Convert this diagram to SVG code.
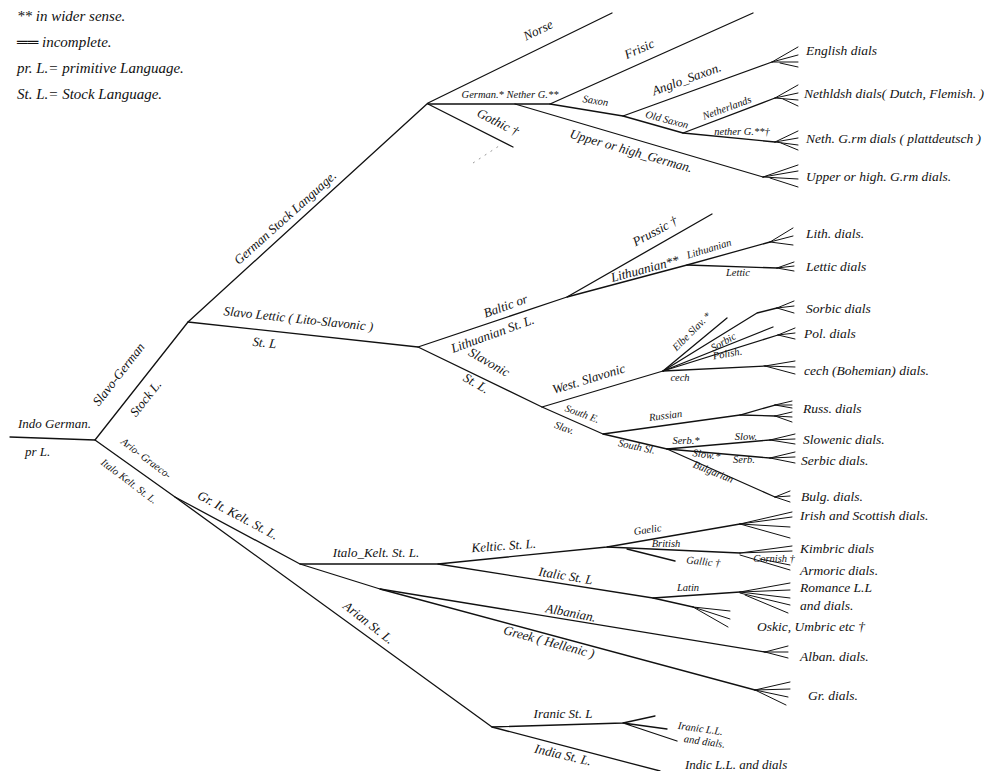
<svg xmlns="http://www.w3.org/2000/svg" width="993" height="771" viewBox="0 0 993 771">
<style>
.l{fill:none;stroke:#111;stroke-width:1.3;stroke-linecap:round;stroke-linejoin:round}
.f{fill:none;stroke:#111;stroke-width:1;stroke-linecap:round}
.d{fill:none;stroke:#999;stroke-width:1;stroke-dasharray:2 5}
text{font-family:"Liberation Serif","DejaVu Serif",serif;font-style:italic;font-size:13px;fill:#111}
.m{text-anchor:middle}
.s{font-size:10.5px}
.r{font-size:13.5px}
.lg{font-size:15px}
</style>
<rect width="993" height="771" fill="#fff"/>
<g id="legend">
<text class="lg" x="17" y="21">** in wider sense.</text>
<text class="lg" x="17" y="47">══ incomplete.</text>
<text class="lg" x="17" y="73">pr. L.= primitive Language.</text>
<text class="lg" x="17" y="99">St. L.= Stock Language.</text>
</g>
<g id="connectors">
<path class="l" d="M10,437 L95,440 L188,322 L428,103 L612,13"/>
<path class="l" d="M428,104 L550,104 L753,13"/>
<path class="l" d="M428,104 L513,147"/>
<path class="d" d="M473,163 L502,144"/>
<path class="l" d="M550,104 L623,116 L772,62"/>
<path class="f" d="M772,62 L798,47 M772,62 L798,55 M772,62 L798,62 M780,63 L798,67"/>
<path class="l" d="M623,116 L683,133 L775,98"/>
<path class="f" d="M775,98 L798,85 M775,98 L798,93 M775,98 L798,100 M783,99 L798,106"/>
<path class="l" d="M683,133 L775,142"/>
<path class="f" d="M775,142 L798,131 M775,142 L798,138 M775,142 L798,145 M781,143 L798,150"/>
<path class="l" d="M515,104 L763,177"/>
<path class="f" d="M763,177 L798,165 M763,177 L798,171 M763,177 L798,179 M770,178 L798,187"/>
<path class="l" d="M188,322 L418,347 L567,297 L712,214"/>
<path class="l" d="M567,297 L687,265 L770,242"/>
<path class="f" d="M770,242 L793,228 M770,242 L793,236 M770,242 L793,245"/>
<path class="l" d="M687,265 L777,268"/>
<path class="f" d="M777,268 L794,262 M777,268 L794,266 M777,268 L794,271"/>
<path class="l" d="M418,347 L542,407 L603,434 L667,449 L775,497"/>
<path class="f" d="M775,497 L790,491 M775,497 L790,496 M775,497 L790,502"/>
<path class="l" d="M542,407 L663,371 L727,318"/>
<path class="l" d="M663,371 L757,313 L777,308"/>
<path class="f" d="M777,308 L794,301 M777,308 L794,306 M777,308 L794,313"/>
<path class="l" d="M663,371 L773,327"/>
<path class="l" d="M663,371 L778,335"/>
<path class="f" d="M778,335 L795,328 M778,335 L795,333 M778,335 L795,339"/>
<path class="l" d="M663,371 L765,366"/>
<path class="f" d="M765,366 L795,361 M765,366 L795,367 M765,366 L795,374"/>
<path class="l" d="M603,434 L740,415 L775,405"/>
<path class="f" d="M775,405 L792,401 M775,405 L792,405 M775,405 L792,408"/>
<path class="l" d="M740,415 L775,416"/>
<path class="f" d="M775,416 L792,412 M775,416 L792,417 M775,416 L792,422"/>
<path class="l" d="M667,449 L770,440"/>
<path class="f" d="M770,440 L795,434 M770,440 L795,439 M770,440 L795,444"/>
<path class="l" d="M667,449 L770,458"/>
<path class="f" d="M770,458 L795,452 M770,458 L795,457 M770,458 L795,463"/>
<path class="l" d="M95,440 L175,497 L300,564 L438,564 L607,547 L740,524"/>
<path class="f" d="M740,524 L792,512 M740,524 L792,517 M740,524 L790,527 M740,524 L790,538"/>
<path class="l" d="M607,547 L740,553"/>
<path class="f" d="M740,553 L792,546 M740,553 L792,551 M740,555 L790,570 M760,559 L790,565"/>
<path class="l" d="M627,549 L675,561"/>
<path class="l" d="M438,564 L653,598 L693,607"/>
<path class="l" d="M653,598 L740,592"/>
<path class="f" d="M740,592 L790,583 M740,592 L790,590 M740,592 L790,598 M740,593 L790,605 M745,595 L788,613"/>
<path class="f" d="M693,607 L730,611 M693,607 L730,619 M693,607 L728,627"/>
<path class="l" d="M300,564 L380,589 L765,652"/>
<path class="f" d="M765,652 L788,646 M765,652 L788,652 M765,652 L788,658"/>
<path class="l" d="M380,589 L755,690"/>
<path class="f" d="M755,690 L790,682 M755,690 L790,689 M755,690 L788,697 M755,690 L786,705"/>
<path class="l" d="M175,497 L492,727 L623,723 L655,716"/>
<path class="l" d="M623,723 L667,729 M623,723 L677,741"/>
<path class="l" d="M492,727 L660,771"/>
</g>
<g id="n-root"><text x="18" y="428">Indo German.</text><text x="25" y="456">pr L.</text></g>
<g id="n-slavo-german"><text class="m" transform="translate(122,377) rotate(-52)">Slavo-German</text><text class="m" transform="translate(149,401) rotate(-52)">Stock L.</text></g>
<g id="n-german"><text class="m" transform="translate(288,221) rotate(-42)">German Stock Language.</text></g>
<g id="n-norse"><text class="m" transform="translate(540,34) rotate(-26)">Norse</text></g>
<g id="n-gernether"><text class="m s" x="510" y="98">German.* Nether G.**</text></g>
<g id="n-gothic"><text class="m" transform="translate(496,126) rotate(27)">Gothic †</text></g>
<g id="n-frisic"><text class="m" transform="translate(641,53) rotate(-24)">Frisic</text></g>
<g id="n-saxon"><text class="m s" transform="translate(595,104) rotate(9)">Saxon</text></g>
<g id="n-anglo"><text class="m" transform="translate(688,83) rotate(-20)">Anglo_Saxon.</text></g>
<g id="n-oldsaxon"><text class="m s" transform="translate(666,123) rotate(15)">Old Saxon</text></g>
<g id="n-netherlands"><text class="m s" transform="translate(728,111) rotate(-20)">Netherlands</text></g>
<g id="n-netherg"><text class="m s" x="742" y="135">nether G.**†</text></g>
<g id="n-upper"><text class="m" transform="translate(630,155) rotate(16)">Upper or high_German.</text></g>
<g id="n-english"><text class="r" x="806" y="55">English dials</text></g>
<g id="n-nethdials"><text class="r" x="804" y="98">Nethldsh dials( Dutch, Flemish. )</text></g>
<g id="n-nethg"><text class="r" x="806" y="143">Neth. G.rm dials ( plattdeutsch )</text></g>
<g id="n-upperdials"><text class="r" x="806" y="181">Upper or high. G.rm dials.</text></g>
<g id="n-slavolettic"><text class="m" transform="translate(298,323) rotate(6)">Slavo Lettic  ( Lito-Slavonic )</text><text class="m" transform="translate(264,347) rotate(6)">St. L</text></g>
<g id="n-baltic"><text class="m" transform="translate(507,310) rotate(-20)">Baltic   or</text><text class="m" transform="translate(494,338) rotate(-20)">Lithuanian  St. L.</text></g>
<g id="n-prussic"><text class="m" transform="translate(657,235) rotate(-28)">Prussic †</text></g>
<g id="n-lith2"><text class="m" transform="translate(646,273) rotate(-15)">Lithuanian**</text></g>
<g id="n-lith"><text class="m s" transform="translate(710,252) rotate(-17)">Lithuanian</text></g>
<g id="n-lettic"><text class="m s" x="738" y="276">Lettic</text></g>
<g id="n-lithdials"><text class="r" x="806" y="238">Lith. dials.</text></g>
<g id="n-letticdials"><text class="r" x="806" y="271">Lettic dials</text></g>
<g id="n-slavonic"><text class="m" transform="translate(487,366) rotate(30)">Slavonic</text><text class="m" transform="translate(474,387) rotate(30)">St. L.</text></g>
<g id="n-west"><text class="m" transform="translate(590,383) rotate(-17)">West.  Slavonic</text></g>
<g id="n-elbe"><text class="m s" transform="translate(694,334) rotate(-45)">Elbe Slav. *</text></g>
<g id="n-sorbic"><text class="m s" transform="translate(725,345) rotate(-30)">Sorbic</text></g>
<g id="n-polish"><text class="m s" transform="translate(728,357) rotate(-10)">Polish.</text></g>
<g id="n-cech"><text class="m s" x="680" y="381">cech</text></g>
<g id="n-sorbicdials"><text class="r" x="806" y="313">Sorbic dials</text></g>
<g id="n-poldials"><text class="r" x="804" y="338">Pol. dials</text></g>
<g id="n-cechdials"><text class="r" x="804" y="375">cech (Bohemian) dials.</text></g>
<g id="n-southe"><text class="m s" transform="translate(581,417) rotate(20)">South E.</text><text class="m s" transform="translate(563,431) rotate(20)">Slav.</text></g>
<g id="n-russian"><text class="m s" transform="translate(666,419) rotate(-7)">Russian</text></g>
<g id="n-southsl"><text class="m s" transform="translate(636,450) rotate(12)">South Sl.</text></g>
<g id="n-serbslow"><text class="m s" x="686" y="444">Serb.*</text><text class="m s" transform="translate(706,458) rotate(8)">Slow.*</text></g>
<g id="n-bulgarian"><text class="m s" transform="translate(712,475) rotate(22)">Bulgarian</text></g>
<g id="n-slow"><text class="m s" x="746" y="440">Slow.</text><text class="m s" x="744" y="463">Serb.</text></g>
<g id="n-russdials"><text class="r" x="803" y="413">Russ. dials</text></g>
<g id="n-slowdials"><text class="r" x="803" y="444">Slowenic dials.</text></g>
<g id="n-serbdials"><text class="r" x="801" y="465">Serbic dials.</text></g>
<g id="n-bulgdials"><text class="r" x="801" y="501">Bulg. dials.</text></g>
<g id="n-ario"><text class="m s" transform="translate(144,461) rotate(37)">Ario- Graeco-</text><text class="m s" transform="translate(127,484) rotate(37)">Italo Kelt. St. L.</text></g>
<g id="n-grit"><text class="m" transform="translate(236,519) rotate(28)">Gr. It. Kelt. St. L.</text></g>
<g id="n-italokelt"><text class="m" x="376" y="557">Italo_Kelt. St. L.</text></g>
<g id="n-keltic"><text class="m" transform="translate(504,550) rotate(-4)">Keltic.  St. L.</text></g>
<g id="n-gaelic"><text class="m s" transform="translate(648,533) rotate(-8)">Gaelic</text></g>
<g id="n-british"><text class="m s" x="666" y="547">British</text></g>
<g id="n-gallic"><text class="m s" transform="translate(703,565) rotate(6)">Gallic †</text></g>
<g id="n-cornish"><text class="m s" x="774" y="562">Cornish †</text></g>
<g id="n-irish"><text class="r" x="800" y="520">Irish and Scottish dials.</text></g>
<g id="n-kimbric"><text class="r" x="800" y="553">Kimbric dials</text></g>
<g id="n-armoric"><text class="r" x="800" y="575">Armoric  dials.</text></g>
<g id="n-italic"><text class="m" transform="translate(565,580) rotate(9)">Italic  St. L</text></g>
<g id="n-latin"><text class="m s" x="688" y="591">Latin</text></g>
<g id="n-romance"><text class="r" x="800" y="592">Romance L.L</text><text class="r" x="800" y="610">and dials.</text></g>
<g id="n-oskic"><text class="r" x="757" y="631">Oskic, Umbric etc †</text></g>
<g id="n-albanian"><text class="m" transform="translate(570,617) rotate(11)">Albanian.</text></g>
<g id="n-albandials"><text class="r" x="800" y="661">Alban. dials.</text></g>
<g id="n-greek"><text class="m" transform="translate(548,646) rotate(15)">Greek   ( Hellenic )</text></g>
<g id="n-grdials"><text class="r" x="808" y="700">Gr. dials.</text></g>
<g id="n-arian"><text class="m" transform="translate(366,626) rotate(38)">Arian   St. L.</text></g>
<g id="n-iranic"><text class="m" x="563" y="718">Iranic St. L</text></g>
<g id="n-iranicll"><text class="m s" transform="translate(700,732) rotate(8)">Iranic L.L.</text><text class="m s" transform="translate(704,745) rotate(8)">and dials.</text></g>
<g id="n-india"><text class="m" transform="translate(562,759) rotate(13)">India St. L.</text></g>
<g id="n-indicll"><text x="685" y="769">Indic L.L. and dials</text></g>
</svg>
